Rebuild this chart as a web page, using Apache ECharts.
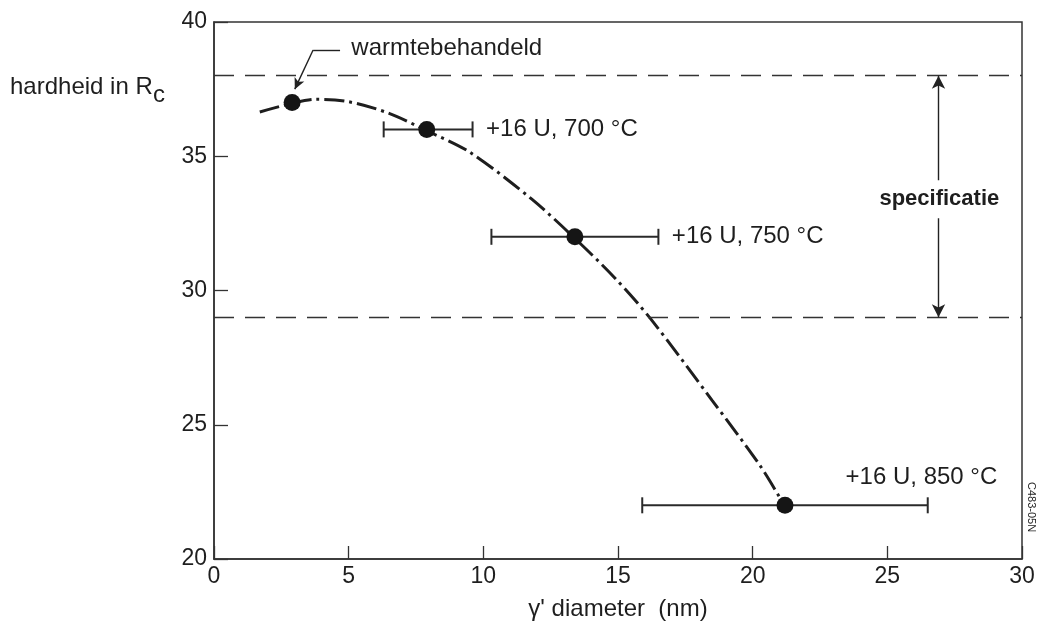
<!DOCTYPE html>
<html>
<head>
<meta charset="utf-8">
<title>hardheid vs gamma' diameter</title>
<style>
  body { margin: 0; background: #fff; }
  #main { width: 1040px; height: 626px; }
</style>
</head>
<body>
<div id="main"></div>
<script src="https://cdn.jsdelivr.net/npm/echarts@6/dist/echarts.min.js"></script>
<script>
// measured points (gamma' diameter in nm, hardness in Rc)
var pointX = [2.9, 7.9, 13.4, 21.2];
var pointY = [37, 36, 32, 22];
// horizontal spread of the diameter (null = no bar)
var errLow = [null, 6.3, 10.3, 15.9];
var errHigh = [null, 9.6, 16.5, 26.5];
var pointNotes = ['', '+16 U, 700 °C', '+16 U, 750 °C', '+16 U, 850 °C'];
var noteX = [null, 10.1, 17.0, 23.45];
var noteY = [null, 36.0, 32.0, 23.05];

// trend curve
var curveX = [1.7, 2.9, 3.8, 5.0, 6.5, 7.9, 9.5, 11.8, 13.4, 14.9, 16.2, 18.5, 20.3, 21.2];
var curveY = [36.65, 36.97, 37.12, 37.03, 36.6, 35.95, 35.15, 33.4, 31.94, 30.45, 28.96, 25.9, 23.44, 21.95];

// specification band
var specLow = 29;
var specHigh = 38;
var specArrowX = 26.9;

var xTicks = [0, 5, 10, 15, 20, 25, 30];
var yTicks = [20, 25, 30, 35, 40];

var font = "'Liberation Sans', Arial, Helvetica, sans-serif";
var ink = '#1e1e1e';

var myChart = echarts.init(document.getElementById('main'));

var scatterData = pointX.map(function (x, i) { return [x, pointY[i]]; });
var curveData = curveX.map(function (x, i) { return [x, curveY[i]]; });
var barData = [];
for (var i = 0; i < pointX.length; i++) {
    if (errLow[i] != null) barData.push([errLow[i], errHigh[i], pointY[i]]);
}
var noteData = [];
for (var j = 0; j < pointX.length; j++) {
    if (noteX[j] != null) noteData.push({ value: [noteX[j], noteY[j]], name: pointNotes[j] });
}

var option = {
    animation: false,
    textStyle: { fontFamily: font, color: ink },
    grid: {
        left: 214, right: 18, top: 22, bottom: 67,
        show: true, borderColor: '#333', borderWidth: 1.5, backgroundColor: 'transparent'
    },
    xAxis: {
        type: 'value',
        min: xTicks[0], max: xTicks[xTicks.length - 1], interval: 5,
        name: "γ' diameter  (nm)",
        nameLocation: 'middle', nameGap: 38,
        nameTextStyle: { fontSize: 24, color: ink, fontFamily: font },
        axisLine: { lineStyle: { color: '#333', width: 1.5 } },
        axisTick: { inside: true, length: 13, lineStyle: { color: '#333', width: 1.3 } },
        axisLabel: { fontSize: 23, color: ink, margin: 6, fontFamily: font },
        splitLine: { show: false }
    },
    yAxis: {
        type: 'value',
        min: yTicks[0], max: yTicks[yTicks.length - 1], interval: 5,
        axisLine: { show: true, lineStyle: { color: '#333', width: 1.5 } },
        axisTick: { show: true, inside: true, length: 14, lineStyle: { color: '#333', width: 1.3 } },
        axisLabel: { fontSize: 23, color: ink, margin: 7, fontFamily: font },
        splitLine: { show: false }
    },
    graphic: [
        {
            type: 'text', left: 10, top: 75,
            style: { text: 'hardheid in R', fontSize: 24, fontFamily: font, fill: ink }
        },
        {
            type: 'text', left: 153, top: 83,
            style: { text: 'c', fontSize: 24, fontFamily: font, fill: ink }
        },
        {
            type: 'text', x: 1037, y: 482, rotation: -Math.PI / 2,
            style: { text: 'C483-05N', fontSize: 11, fontFamily: font, fill: ink, align: 'left', verticalAlign: 'top' }
        }
    ],
    series: [
        {
            name: 'curve',
            type: 'line',
            data: curveData,
            smooth: 0.3,
            showSymbol: false,
            silent: true,
            lineStyle: { color: ink, width: 3, type: [20, 5, 3, 5] },
            z: 2,
            markLine: {
                silent: true,
                symbol: ['none', 'none'],
                label: { show: false },
                lineStyle: { color: '#333', width: 1.3, type: [20, 11] },
                data: [{ yAxis: specHigh }, { yAxis: specLow }]
            }
        },
        {
            name: 'spread',
            type: 'custom',
            data: barData,
            silent: true,
            z: 3,
            renderItem: function (params, api) {
                var a = api.coord([api.value(0), api.value(2)]);
                var b = api.coord([api.value(1), api.value(2)]);
                var h = 8;
                var st = { stroke: '#2a2a2a', lineWidth: 2 };
                return {
                    type: 'group',
                    children: [
                        { type: 'line', shape: { x1: a[0], y1: a[1], x2: b[0], y2: b[1] }, style: st },
                        { type: 'line', shape: { x1: a[0], y1: a[1] - h, x2: a[0], y2: a[1] + h }, style: st },
                        { type: 'line', shape: { x1: b[0], y1: b[1] - h, x2: b[0], y2: b[1] + h }, style: st }
                    ]
                };
            }
        },
        {
            name: 'points',
            type: 'scatter',
            data: scatterData,
            symbol: 'circle',
            symbolSize: 17,
            itemStyle: { color: '#151515', opacity: 1 },
            z: 5,
            markLine: {
                silent: true,
                label: { show: false },
                lineStyle: { color: '#222', width: 1.4, type: 'solid', opacity: 1 },
                data: [
                    [
                        { coord: [4.68, 38.96], symbol: 'none' },
                        { coord: [3.68, 38.96], symbol: 'none' }
                    ],
                    [
                        { coord: [3.68, 38.96], symbol: 'none' },
                        { coord: [3.0, 37.5], symbol: 'arrow', symbolSize: [8, 11] }
                    ],
                    [
                        { coord: [specArrowX, specHigh], symbol: 'arrow', symbolSize: [10, 13] },
                        { coord: [specArrowX, specLow], symbol: 'arrow', symbolSize: [10, 13] }
                    ]
                ]
            }
        },
        {
            name: 'notes',
            type: 'scatter',
            symbolSize: 0,
            silent: true,
            z: 6,
            itemStyle: { opacity: 1 },
            data: noteData.concat([
                { value: [5.1, 39.03], name: 'warmtebehandeld' }
            ]),
            label: {
                show: true, position: 'right', distance: 0,
                formatter: '{b}', fontSize: 24, color: ink, fontFamily: font
            }
        },
        {
            name: 'spec',
            type: 'scatter',
            symbolSize: 0,
            silent: true,
            z: 7,
            itemStyle: { opacity: 1 },
            data: [{ value: [specArrowX + 0.03, 33.4], name: 'specificatie' }],
            label: {
                show: true, position: 'inside',
                formatter: '{b}', fontSize: 22, fontWeight: 'bold', color: ink, fontFamily: font,
                backgroundColor: '#fff', padding: [8, 2, 8, 2]
            }
        }
    ]
};

myChart.setOption(option);
</script>
</body>
</html>
